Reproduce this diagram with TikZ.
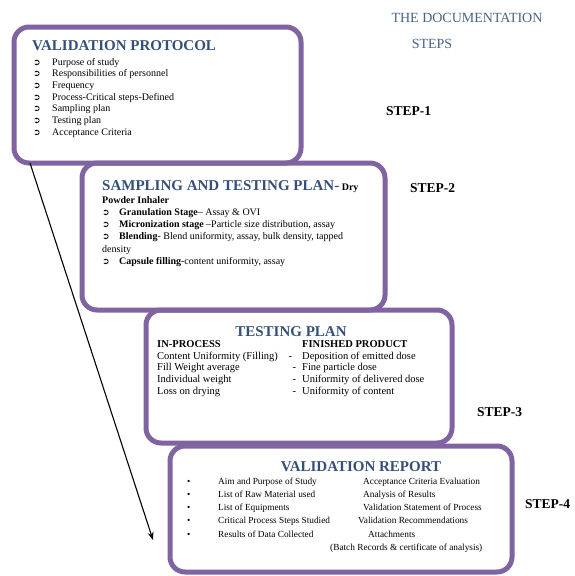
\documentclass[tikz,border=0pt]{standalone}
\usepackage{fontspec}
\setmainfont{Liberation Serif}
\newfontfamily\symfont{DejaVu Sans}
\usetikzlibrary{positioning,arrows.meta}
\definecolor{boxpurple}{HTML}{8064A2}
\definecolor{titleblue}{HTML}{34507A}
\definecolor{notegray}{HTML}{4A6384}
\newcommand{\arrowitem}[1]{\makebox[#1][l]{\symfont\fontsize{9}{9}\selectfont\bfseries ➲}}
\newcommand{\dotitem}{\makebox[32pt][l]{\hspace{1pt}•}}

\begin{document}
\begin{tikzpicture}[
    x=1pt,y=-1pt,
    stepbox/.style={draw=boxpurple,line width=5pt,rounded corners=15pt,anchor=north west,inner sep=0pt,outer sep=0pt},
    boxtitle/.style={font=\fontsize{15}{17}\selectfont\bfseries,text=titleblue,inner sep=0pt},
    steplabel/.style={font=\fontsize{13.5}{15}\selectfont\bfseries,inner sep=0pt,anchor=west},
    itemlist/.style={anchor=north west,inner sep=0pt},
    >={Stealth[length=8pt,width=6pt]},
  ]
  \useasboundingbox (0,0) rectangle (574,576);
  % the four frames
  \node[stepbox,minimum width=287pt,minimum height=136pt] (protocol) at (14,27) {};
  \node[stepbox,minimum width=303pt,minimum height=147pt] (sampling) at (82,163) {};
  \node[stepbox,minimum width=306pt,minimum height=133pt] (testing) at (146,310) {};
  \node[stepbox,minimum width=342pt,minimum height=126pt] (report) at (170,446) {};

  % heading at the top right
  \node[font=\fontsize{14}{16}\selectfont,text=notegray,inner sep=0pt] (doctitle) at (467,18) {THE DOCUMENTATION};
  \node[font=\fontsize{14}{16}\selectfont,text=notegray,inner sep=0pt] (docsteps) at (432,44) {STEPS};

  % step 1
  \node[boxtitle,anchor=west] (protocoltitle) at (32,46) {VALIDATION PROTOCOL};
  \node[itemlist] (protocollist) at (33,56.8) {\fontsize{10}{11.7}\selectfont
    \begin{tabular}{@{}l@{}}
      \arrowitem{19pt}Purpose of study\\
      \arrowitem{19pt}Responsibilities of personnel\\
      \arrowitem{19pt}Frequency\\
      \arrowitem{19pt}Process-Critical steps-Defined\\
      \arrowitem{19pt}Sampling plan\\
      \arrowitem{19pt}Testing plan\\
      \arrowitem{19pt}Acceptance Criteria
    \end{tabular}};
  \node[steplabel] (step1) at (386,111) {STEP-1};

  % step 2
  \node[boxtitle,anchor=west] (samplingtitle) at (102,187) {SAMPLING AND TESTING PLAN-\,{\color{black}\fontsize{10}{12}\selectfont Dry}};
  \node[itemlist] (samplinglist) at (102,194.5) {\fontsize{10}{12.2}\selectfont
    \begin{tabular}{@{}l@{}}
      \textbf{Powder Inhaler}\\
      \arrowitem{17pt}\textbf{Granulation Stage}– Assay \& OVI\\
      \arrowitem{17pt}\textbf{Micronization stage} –Particle size distribution, assay\\
      \arrowitem{17pt}\textbf{Blending}- Blend uniformity, assay, bulk density, tapped\\
      density\\
      \arrowitem{17pt}\textbf{Capsule filling}-content uniformity, assay
    \end{tabular}};
  \node[steplabel] (step2) at (410,188) {STEP-2};

  % step 3
  \node[boxtitle] (testingtitle) at (291,332) {TESTING PLAN};
  \node[itemlist] (testinglist) at (157,339.4) {\fontsize{10.5}{11.6}\selectfont
    \begin{tabular}{@{}l@{}l@{}}
      \makebox[145pt][l]{\textbf{IN-PROCESS}} & \textbf{FINISHED PRODUCT}\\
      \makebox[145pt][l]{Content Uniformity (Filling)\hfill-\hspace{10pt}} & Deposition of emitted dose\\
      \makebox[145pt][l]{Fill Weight average\hfill-\hspace{6pt}} & Fine particle dose\\
      \makebox[145pt][l]{Individual weight\hfill-\hspace{6pt}} & Uniformity of delivered dose\\
      \makebox[145pt][l]{Loss on drying\hfill-\hspace{6pt}} & Uniformity of content
    \end{tabular}};
  \node[steplabel] (step3) at (477,412) {STEP-3};

  % step 4
  \node[boxtitle] (reporttitle) at (361,467) {VALIDATION REPORT};
  \node[itemlist] (reportlist) at (186,474.8) {\fontsize{9.3}{13.2}\selectfont
    \begin{tabular}{@{}l@{}l@{}}
      \dotitem\makebox[145pt][l]{Aim and Purpose of Study} & Acceptance Criteria Evaluation\\
      \dotitem\makebox[145pt][l]{List of Raw Material used} & Analysis of Results\\
      \dotitem\makebox[145pt][l]{List of Equipments} & Validation Statement of Process\\
      \dotitem\makebox[145pt][l]{Critical Process Steps Studied} & \hspace{-5pt}Validation Recommendations\\
      \dotitem\makebox[145pt][l]{Results of Data Collected} & \hspace{5pt}Attachments\\
      & \hspace{-33pt}(Batch Records \& certificate of analysis)
    \end{tabular}};
  \node[steplabel] (step4) at (525,504) {STEP-4};

  % arrow down the left side
  \coordinate (arrowend) at (153,540);
  \draw[->,line width=1.1pt] ([xshift=16pt]protocol.south west) -- (arrowend);
\end{tikzpicture}
\end{document}
